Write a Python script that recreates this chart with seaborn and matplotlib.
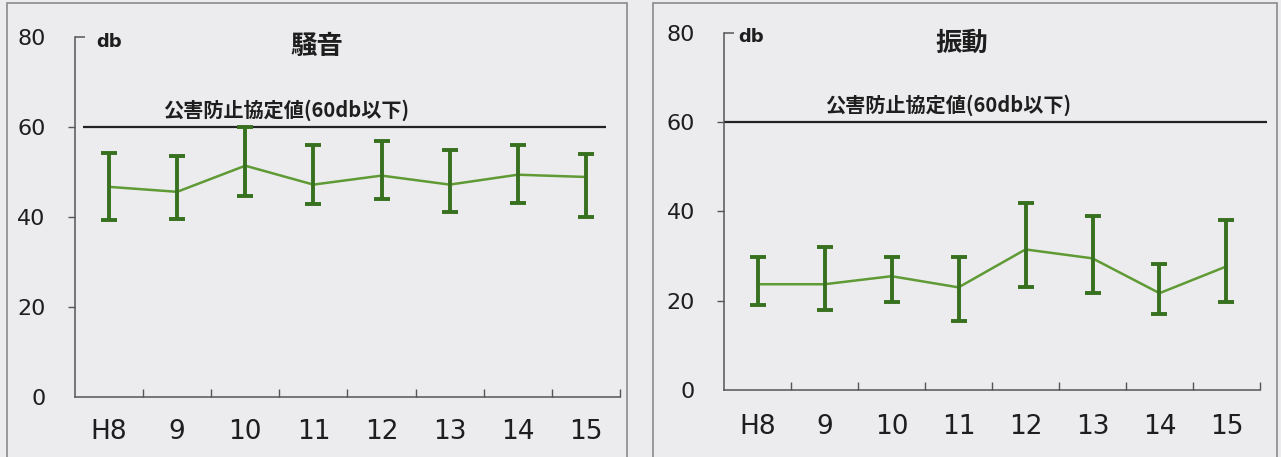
import numpy as np
import pandas as pd
import seaborn as sns
import matplotlib.pyplot as plt
from matplotlib.patches import Rectangle

# categorias (años) y valores
anios = ["H8", "9", "10", "11", "12", "13", "14", "15"]

ruido_medio = [46.7, 45.6, 51.4, 47.2, 49.2, 47.2, 49.4, 48.9]
ruido_max = [54.3, 53.6, 60.0, 55.9, 56.8, 54.8, 55.9, 54.1]
ruido_min = [39.3, 39.6, 44.7, 42.9, 44.0, 41.2, 43.1, 40.0]

vibracion_medio = [23.7, 23.7, 25.5, 23.0, 31.5, 29.5, 21.7, 27.7]
vibracion_max = [29.7, 32.0, 29.7, 29.7, 42.0, 39.1, 28.2, 38.0]
vibracion_min = [19.0, 17.9, 19.7, 15.5, 23.0, 21.7, 17.0, 19.7]

limite = 60
etiqueta_limite = "公害防止協定値(60db以下)"
titulos = ["騒音", "振動"]

sns.set_theme(style="white")
plt.rcParams['font.family'] = ['DejaVu Sans', 'Noto Sans CJK JP']

fondo = "#ececef"
verde_barra = "#37701f"
verde_linea = "#5f9a34"
gris = "#555555"
texto = "#1e1e1e"

fig = plt.figure(figsize=(12.81, 4.57), dpi=100, facecolor=fondo)

# posiciones de los ejes (fraccion de figura)
ax1 = fig.add_axes([0.0585, 0.1313, 0.4255, 0.7877])
ax2 = fig.add_axes([0.5652, 0.1466, 0.4184, 0.7812])

# marcos de cada panel
fig.add_artist(Rectangle((7 / 1281, -0.02), 620 / 1281, 1.013, transform=fig.transFigure,
                         fill=False, edgecolor="#8a8a8a", linewidth=1.2))
fig.add_artist(Rectangle((653 / 1281, -0.02), 624 / 1281, 1.013, transform=fig.transFigure,
                         fill=False, edgecolor="#8a8a8a", linewidth=1.2))

paneles = [
    (ax1, ruido_medio, ruido_max, ruido_min, titulos[0], (-0.38, 7.3), 2.6, 0.0, 10),
    (ax2, vibracion_medio, vibracion_max, vibracion_min, titulos[1], (-0.5, 7.6), 2.85, -0.1, 11),
]

for ax, medio, maximo, minimo, titulo, tramo, x_lab, x_db, pad_x in paneles:
    ax.set_facecolor(fondo)
    df = pd.DataFrame({"pos": np.arange(len(anios)), "medio": medio,
                       "max": maximo, "min": minimo})

    # linea de medias
    sns.lineplot(data=df, x="pos", y="medio", ax=ax, color=verde_linea,
                 linewidth=1.8, zorder=2)

    # barras de rango (min - max)
    ax.errorbar(df["pos"], df["medio"],
                yerr=[df["medio"] - df["min"], df["max"] - df["medio"]],
                fmt="none", ecolor=verde_barra, elinewidth=2.8,
                capsize=5.5, capthick=2.8, zorder=3)

    # valor limite
    ax.hlines(limite, tramo[0], tramo[1], color="#222222", linewidth=1.6, zorder=1,
              clip_on=False)
    ax.text(x_lab, limite + 1.3, etiqueta_limite, ha="center", va="bottom",
            fontsize=14.5, fontweight="bold", color=texto,
            family=['Noto Sans CJK JP', 'DejaVu Sans'])

    ax.text(3.05, 77.8, titulo, ha="center", va="center", fontsize=19,
            fontweight="bold", color=texto, family=['Noto Sans CJK JP'])
    ax.text(x_db, 79, "db", ha="center", va="center", fontsize=13,
            fontweight="bold", color=texto)

    ax.set_xlim(-0.5, 7.5)
    ax.set_ylim(0, 80)
    ax.set_xticks(np.arange(len(anios)))
    ax.set_xticklabels(anios)
    ax.set_xticks(np.arange(len(anios)) + 0.5, minor=True)
    ax.set_yticks([0, 20, 40, 60, 80])
    ax.set_xlabel("")
    ax.set_ylabel("")

    ax.tick_params(axis="x", which="major", bottom=False, pad=pad_x, labelsize=19,
                   labelcolor=texto)
    ax.tick_params(axis="x", which="minor", bottom=True, direction="in", length=6,
                   width=1, color=gris)
    ax.tick_params(axis="y", which="major", left=True, direction="out", length=5,
                   width=1, color=gris, pad=16, labelsize=16, labelcolor=texto)
    ax.yaxis.get_major_ticks()[-1].tick1line.set_visible(False)
    ax.yaxis.get_major_ticks()[0].tick1line.set_visible(False)

    for lado in ["top", "right"]:
        ax.spines[lado].set_visible(False)
    for lado in ["left", "bottom"]:
        ax.spines[lado].set_color(gris)
        ax.spines[lado].set_linewidth(1.1)

    # marca superior del eje y hacia la derecha
    ax.yaxis.remove_overlapping_locs = False
    ax.set_yticks([80], minor=True)
    ax.tick_params(axis="y", which="minor", direction="in", length=7,
                   width=1.1, color=gris, left=True)

fig.savefig("out.png", dpi=100, facecolor=fondo)
